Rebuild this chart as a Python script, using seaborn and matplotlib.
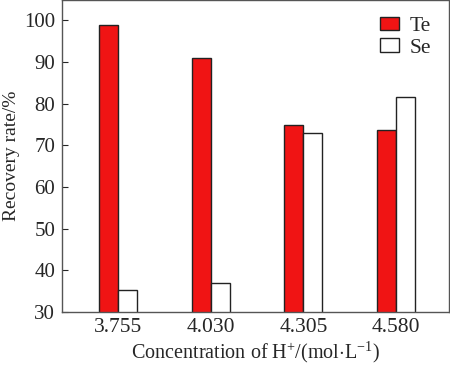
import pandas as pd
import numpy as np
import matplotlib
matplotlib.use('Agg')
import matplotlib.pyplot as plt
import seaborn as sns

concentracion = ['3.755', '4.030', '4.305', '4.580']
te = [99.0, 90.9, 74.8, 73.6]
se = [35.2, 37.0, 72.9, 81.5]

df = pd.DataFrame({
    'conc': concentracion * 2,
    'rate': te + se,
    'elem': ['Te'] * 4 + ['Se'] * 4,
})

sns.set_style('ticks')
plt.rcParams['font.family'] = ['Liberation Serif', 'DejaVu Serif']
plt.rcParams['mathtext.fontset'] = 'custom'
plt.rcParams['mathtext.rm'] = 'Liberation Serif'

fig, ax = plt.subplots(figsize=(4.5, 3.67), dpi=100)
sns.barplot(data=df, x='conc', y='rate', hue='elem', ax=ax,
            palette={'Te': '#f01414', 'Se': 'white'},
            width=0.41, edgecolor='#222222', linewidth=1.0, saturation=1)

ax.set_ylim(30, 104.8)
ax.set_xlim(-0.6, 3.57)
ax.set_yticks([30, 40, 50, 60, 70, 80, 90, 100])
ax.tick_params(axis='y', direction='in', length=4, labelsize=15, pad=5)
ax.tick_params(axis='x', length=0, labelsize=15.5, pad=4)
ax.set_ylabel('Recovery rate/%', fontsize=14, labelpad=3)
ax.set_xlabel('Concentration of H$\\mathregular{^{+}}$/(mol$\\cdot$L$\\mathregular{^{-1}}$)',
              fontsize=14.5, labelpad=2)

for s in ax.spines.values():
    s.set_color('#555555')
    s.set_linewidth(1.0)

leg = ax.legend(loc='upper right', bbox_to_anchor=(0.975, 0.975), frameon=False,
                fontsize=15.5, handlelength=0.85, handleheight=0.6, handletextpad=0.5,
                labelspacing=0.1, borderaxespad=0.0, title=None)

plt.subplots_adjust(left=0.138, right=0.998, top=0.999, bottom=0.15)
plt.savefig('out.png', dpi=100)
